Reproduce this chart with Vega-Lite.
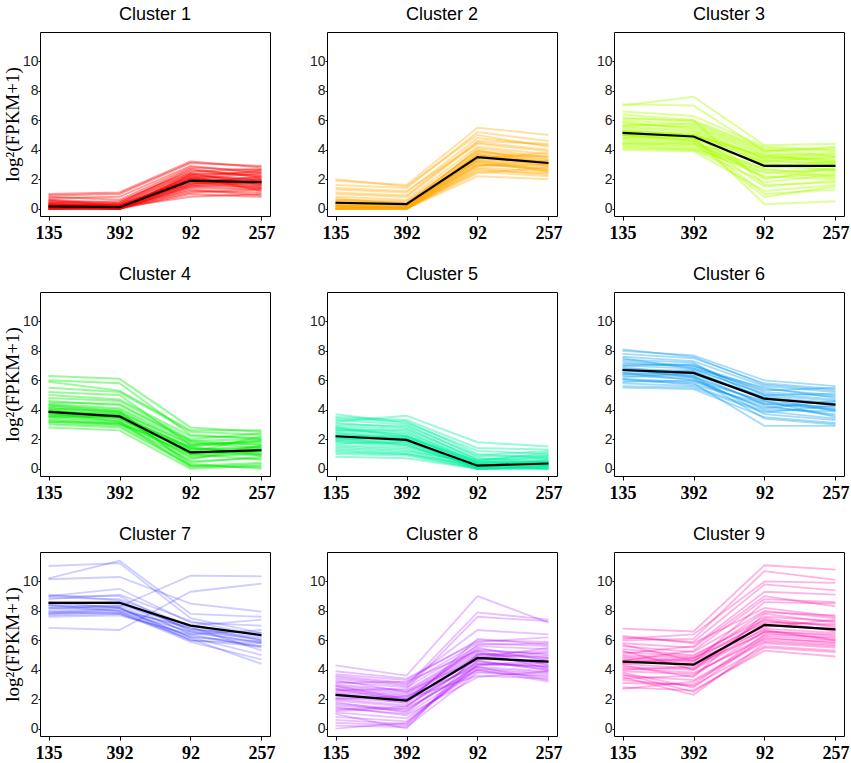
{
"$schema":"https://vega.github.io/schema/vega-lite/v6.json",
"background":"white",
"padding":{"left":2,"top":5,"right":2,"bottom":5},
"datasets":{
"means":[
{"c":1,"135":0.15,"392":0.1,"92":1.9,"257":1.8},
{"c":2,"135":0.4,"392":0.3,"92":3.5,"257":3.1},
{"c":3,"135":5.15,"392":4.9,"92":2.9,"257":2.9},
{"c":4,"135":3.85,"392":3.55,"92":1.1,"257":1.25},
{"c":5,"135":2.2,"392":1.95,"92":0.2,"257":0.35},
{"c":6,"135":6.7,"392":6.5,"92":4.75,"257":4.35},
{"c":7,"135":8.55,"392":8.55,"92":7.0,"257":6.35},
{"c":8,"135":2.3,"392":1.9,"92":4.8,"257":4.55},
{"c":9,"135":4.55,"392":4.35,"92":7.05,"257":6.75}
],
"genes":[
{"c":1,"g":1,"135":0.0,"392":0.0,"92":1.5,"257":1.4},
{"c":1,"g":2,"135":0.1,"392":0.0,"92":1.8,"257":1.6},
{"c":1,"g":3,"135":0.2,"392":0.1,"92":2.0,"257":1.9},
{"c":1,"g":4,"135":0.3,"392":0.2,"92":2.2,"257":2.0},
{"c":1,"g":5,"135":0.0,"392":0.1,"92":1.2,"257":1.1},
{"c":1,"g":6,"135":0.5,"392":0.3,"92":2.4,"257":2.3},
{"c":1,"g":7,"135":0.1,"392":0.0,"92":1.9,"257":2.1},
{"c":1,"g":8,"135":0.2,"392":0.2,"92":1.6,"257":1.5},
{"c":1,"g":9,"135":0.4,"392":0.1,"92":2.1,"257":1.7},
{"c":1,"g":10,"135":0.0,"392":0.0,"92":2.3,"257":2.5},
{"c":1,"g":11,"135":0.6,"392":0.4,"92":2.6,"257":2.2},
{"c":1,"g":12,"135":0.1,"392":0.1,"92":1.4,"257":1.3},
{"c":1,"g":13,"135":0.3,"392":0.0,"92":1.7,"257":1.9},
{"c":1,"g":14,"135":0.0,"392":0.2,"92":2.0,"257":2.4},
{"c":1,"g":15,"135":0.8,"392":0.6,"92":2.8,"257":2.6},
{"c":1,"g":16,"135":0.2,"392":0.0,"92":1.3,"257":0.9},
{"c":1,"g":17,"135":0.1,"392":0.3,"92":1.9,"257":1.8},
{"c":1,"g":18,"135":0.4,"392":0.5,"92":2.5,"257":2.7},
{"c":1,"g":19,"135":0.0,"392":0.0,"92":1.0,"257":0.8},
{"c":1,"g":20,"135":0.9,"392":1.0,"92":3.1,"257":2.9},
{"c":1,"g":21,"135":0.3,"392":0.1,"92":2.2,"257":1.2},
{"c":1,"g":22,"135":0.0,"392":0.0,"92":1.6,"257":2.0},
{"c":1,"g":23,"135":0.5,"392":0.2,"92":1.8,"257":1.4},
{"c":1,"g":24,"135":0.2,"392":0.4,"92":2.7,"257":2.1},
{"c":1,"g":25,"135":0.1,"392":0.0,"92":2.1,"257":2.6},
{"c":1,"g":26,"135":0.7,"392":0.8,"92":2.9,"257":2.4},
{"c":1,"g":27,"135":0.0,"392":0.1,"92":0.8,"257":1.0},
{"c":1,"g":28,"135":0.3,"392":0.3,"92":2.4,"257":1.6},
{"c":1,"g":29,"135":0.2,"392":0.0,"92":1.5,"257":1.8},
{"c":1,"g":30,"135":0.1,"392":0.2,"92":2.0,"257":1.5},
{"c":1,"g":31,"135":0.6,"392":0.2,"92":1.7,"257":2.2},
{"c":1,"g":32,"135":0.0,"392":0.0,"92":1.1,"257":1.3},
{"c":1,"g":33,"135":1.0,"392":1.1,"92":3.2,"257":2.8},
{"c":1,"g":34,"135":0.4,"392":0.0,"92":2.3,"257":1.9},
{"c":1,"g":35,"135":0.2,"392":0.1,"92":1.9,"257":1.7},
{"c":2,"g":1,"135":0.0,"392":0.0,"92":3.0,"257":2.8},
{"c":2,"g":2,"135":0.2,"392":0.1,"92":3.4,"257":3.0},
{"c":2,"g":3,"135":0.4,"392":0.3,"92":3.6,"257":3.2},
{"c":2,"g":4,"135":0.1,"392":0.0,"92":2.8,"257":2.5},
{"c":2,"g":5,"135":0.0,"392":0.0,"92":3.2,"257":2.9},
{"c":2,"g":6,"135":0.6,"392":0.5,"92":3.9,"257":3.5},
{"c":2,"g":7,"135":0.3,"392":0.2,"92":3.3,"257":3.1},
{"c":2,"g":8,"135":0.0,"392":0.1,"92":2.5,"257":2.2},
{"c":2,"g":9,"135":0.8,"392":0.6,"92":4.2,"257":3.7},
{"c":2,"g":10,"135":0.2,"392":0.0,"92":3.1,"257":2.6},
{"c":2,"g":11,"135":1.0,"392":0.8,"92":4.5,"257":4.0},
{"c":2,"g":12,"135":0.1,"392":0.0,"92":2.9,"257":3.3},
{"c":2,"g":13,"135":0.5,"392":0.4,"92":3.7,"257":2.9},
{"c":2,"g":14,"135":0.0,"392":0.0,"92":2.2,"257":2.0},
{"c":2,"g":15,"135":1.3,"392":1.1,"92":4.8,"257":4.3},
{"c":2,"g":16,"135":0.3,"392":0.1,"92":3.5,"257":3.6},
{"c":2,"g":17,"135":0.0,"392":0.2,"92":3.0,"257":2.7},
{"c":2,"g":18,"135":1.6,"392":1.4,"92":5.2,"257":4.6},
{"c":2,"g":19,"135":0.2,"392":0.0,"92":3.8,"257":3.4},
{"c":2,"g":20,"135":0.7,"392":0.3,"92":4.0,"257":3.0},
{"c":2,"g":21,"135":0.0,"392":0.0,"92":2.6,"257":2.4},
{"c":2,"g":22,"135":1.9,"392":1.6,"92":5.5,"257":5.0},
{"c":2,"g":23,"135":0.4,"392":0.2,"92":3.4,"257":3.8},
{"c":2,"g":24,"135":0.1,"392":0.1,"92":3.6,"257":3.1},
{"c":2,"g":25,"135":1.1,"392":0.9,"92":4.6,"257":4.4},
{"c":2,"g":26,"135":0.0,"392":0.0,"92":2.4,"257":2.8},
{"c":2,"g":27,"135":0.5,"392":0.3,"92":3.2,"257":2.5},
{"c":2,"g":28,"135":0.2,"392":0.1,"92":4.1,"257":3.5},
{"c":2,"g":29,"135":2.0,"392":1.5,"92":5.0,"257":4.2},
{"c":2,"g":30,"135":0.3,"392":0.0,"92":2.7,"257":2.3},
{"c":2,"g":31,"135":0.6,"392":0.4,"92":3.9,"257":3.3},
{"c":2,"g":32,"135":0.0,"392":0.0,"92":3.3,"257":2.6},
{"c":2,"g":33,"135":1.4,"392":1.2,"92":4.4,"257":3.9},
{"c":2,"g":34,"135":0.2,"392":0.2,"92":2.9,"257":3.0},
{"c":2,"g":35,"135":0.0,"392":0.1,"92":3.7,"257":3.2},
{"c":3,"g":1,"135":5.0,"392":4.8,"92":3.0,"257":2.9},
{"c":3,"g":2,"135":5.3,"392":5.0,"92":3.2,"257":3.1},
{"c":3,"g":3,"135":4.8,"392":4.6,"92":2.6,"257":2.5},
{"c":3,"g":4,"135":5.6,"392":5.3,"92":3.4,"257":3.3},
{"c":3,"g":5,"135":4.4,"392":4.2,"92":2.2,"257":2.0},
{"c":3,"g":6,"135":6.0,"392":5.7,"92":3.8,"257":3.5},
{"c":3,"g":7,"135":5.1,"392":4.9,"92":2.9,"257":3.2},
{"c":3,"g":8,"135":4.2,"392":4.0,"92":1.8,"257":2.3},
{"c":3,"g":9,"135":5.8,"392":5.5,"92":3.6,"257":3.8},
{"c":3,"g":10,"135":4.6,"392":4.4,"92":2.4,"257":2.7},
{"c":3,"g":11,"135":6.4,"392":6.0,"92":4.1,"257":3.9},
{"c":3,"g":12,"135":5.2,"392":5.1,"92":3.1,"257":2.6},
{"c":3,"g":13,"135":4.0,"392":3.9,"92":1.2,"257":1.6},
{"c":3,"g":14,"135":7.1,"392":7.0,"92":3.9,"257":4.2},
{"c":3,"g":15,"135":5.5,"392":5.2,"92":3.3,"257":3.0},
{"c":3,"g":16,"135":4.7,"392":4.5,"92":0.8,"257":1.5},
{"c":3,"g":17,"135":6.2,"392":5.9,"92":4.0,"257":3.6},
{"c":3,"g":18,"135":5.0,"392":5.0,"92":2.0,"257":2.8},
{"c":3,"g":19,"135":4.3,"392":4.1,"92":2.7,"257":2.2},
{"c":3,"g":20,"135":7.0,"392":7.6,"92":4.3,"257":4.4},
{"c":3,"g":21,"135":5.4,"392":5.0,"92":3.5,"257":3.4},
{"c":3,"g":22,"135":4.9,"392":4.7,"92":1.5,"257":1.9},
{"c":3,"g":23,"135":5.7,"392":5.6,"92":3.7,"257":3.2},
{"c":3,"g":24,"135":4.5,"392":4.3,"92":2.8,"257":3.0},
{"c":3,"g":25,"135":6.6,"392":6.3,"92":4.2,"257":4.0},
{"c":3,"g":26,"135":5.3,"392":4.9,"92":0.3,"257":0.5},
{"c":3,"g":27,"135":4.1,"392":4.0,"92":2.5,"257":2.1},
{"c":3,"g":28,"135":5.9,"392":5.4,"92":3.4,"257":3.7},
{"c":3,"g":29,"135":5.0,"392":4.6,"92":2.1,"257":2.4},
{"c":3,"g":30,"135":4.8,"392":5.0,"92":3.6,"257":3.1},
{"c":3,"g":31,"135":6.1,"392":6.0,"92":1.6,"257":1.8},
{"c":3,"g":32,"135":5.2,"392":4.8,"92":2.9,"257":2.6},
{"c":3,"g":33,"135":4.4,"392":4.4,"92":3.2,"257":3.5},
{"c":3,"g":34,"135":5.6,"392":5.8,"92":3.9,"257":4.1},
{"c":3,"g":35,"135":5.0,"392":4.7,"92":1.0,"257":1.3},
{"c":4,"g":1,"135":3.8,"392":3.5,"92":1.1,"257":1.2},
{"c":4,"g":2,"135":4.0,"392":3.7,"92":1.3,"257":1.4},
{"c":4,"g":3,"135":3.5,"392":3.2,"92":0.8,"257":1.0},
{"c":4,"g":4,"135":4.3,"392":4.0,"92":1.6,"257":1.7},
{"c":4,"g":5,"135":3.2,"392":3.0,"92":0.5,"257":0.7},
{"c":4,"g":6,"135":4.6,"392":4.3,"92":1.9,"257":2.0},
{"c":4,"g":7,"135":3.9,"392":3.6,"92":1.0,"257":1.5},
{"c":4,"g":8,"135":3.0,"392":2.8,"92":0.2,"257":0.4},
{"c":4,"g":9,"135":4.1,"392":3.9,"92":1.4,"257":1.1},
{"c":4,"g":10,"135":3.6,"392":3.3,"92":0.9,"257":1.3},
{"c":4,"g":11,"135":5.0,"392":4.7,"92":2.2,"257":2.1},
{"c":4,"g":12,"135":3.7,"392":3.5,"92":1.2,"257":0.9},
{"c":4,"g":13,"135":2.8,"392":2.6,"92":0.0,"257":0.2},
{"c":4,"g":14,"135":5.5,"392":5.2,"92":2.5,"257":2.3},
{"c":4,"g":15,"135":4.2,"392":3.8,"92":1.7,"257":1.8},
{"c":4,"g":16,"135":3.4,"392":3.1,"92":0.6,"257":1.6},
{"c":4,"g":17,"135":4.8,"392":4.6,"92":2.0,"257":2.4},
{"c":4,"g":18,"135":3.9,"392":3.7,"92":0.4,"257":0.8},
{"c":4,"g":19,"135":3.3,"392":3.0,"92":1.5,"257":1.9},
{"c":4,"g":20,"135":6.3,"392":6.1,"92":2.8,"257":2.5},
{"c":4,"g":21,"135":4.4,"392":4.1,"92":1.8,"257":1.4},
{"c":4,"g":22,"135":3.1,"392":2.9,"92":0.3,"257":0.0},
{"c":4,"g":23,"135":4.0,"392":3.4,"92":1.1,"257":2.2},
{"c":4,"g":24,"135":3.6,"392":3.6,"92":1.4,"257":1.0},
{"c":4,"g":25,"135":5.9,"392":5.3,"92":2.6,"257":2.6},
{"c":4,"g":26,"135":3.8,"392":3.2,"92":0.1,"257":0.3},
{"c":4,"g":27,"135":4.5,"392":4.4,"92":1.9,"257":1.6},
{"c":4,"g":28,"135":3.5,"392":3.5,"92":0.7,"257":1.2},
{"c":4,"g":29,"135":4.1,"392":3.8,"92":1.0,"257":0.6},
{"c":4,"g":30,"135":5.2,"392":5.0,"92":1.6,"257":1.9},
{"c":4,"g":31,"135":3.7,"392":3.4,"92":1.3,"257":1.5},
{"c":4,"g":32,"135":4.3,"392":3.9,"92":0.2,"257":0.1},
{"c":4,"g":33,"135":6.0,"392":5.8,"92":2.3,"257":2.0},
{"c":4,"g":34,"135":3.2,"392":3.1,"92":1.0,"257":1.3},
{"c":4,"g":35,"135":3.9,"392":3.5,"92":1.5,"257":0.9},
{"c":5,"g":1,"135":2.2,"392":1.9,"92":0.2,"257":0.3},
{"c":5,"g":2,"135":2.5,"392":2.2,"92":0.3,"257":0.4},
{"c":5,"g":3,"135":1.9,"392":1.6,"92":0.1,"257":0.2},
{"c":5,"g":4,"135":2.8,"392":2.5,"92":0.4,"257":0.5},
{"c":5,"g":5,"135":1.5,"392":1.3,"92":0.0,"257":0.1},
{"c":5,"g":6,"135":3.1,"392":2.8,"92":0.6,"257":0.7},
{"c":5,"g":7,"135":2.0,"392":1.8,"92":0.2,"257":0.5},
{"c":5,"g":8,"135":1.2,"392":1.0,"92":0.0,"257":0.0},
{"c":5,"g":9,"135":2.6,"392":2.4,"92":0.5,"257":0.3},
{"c":5,"g":10,"135":2.3,"392":2.0,"92":0.1,"257":0.6},
{"c":5,"g":11,"135":3.3,"392":3.0,"92":0.8,"257":0.9},
{"c":5,"g":12,"135":1.8,"392":1.5,"92":0.3,"257":0.2},
{"c":5,"g":13,"135":1.0,"392":0.9,"92":0.0,"257":0.1},
{"c":5,"g":14,"135":3.7,"392":3.1,"92":1.2,"257":1.0},
{"c":5,"g":15,"135":2.4,"392":2.1,"92":0.4,"257":0.8},
{"c":5,"g":16,"135":1.6,"392":1.4,"92":0.2,"257":0.0},
{"c":5,"g":17,"135":2.9,"392":2.7,"92":0.7,"257":0.4},
{"c":5,"g":18,"135":2.1,"392":1.9,"92":0.0,"257":0.2},
{"c":5,"g":19,"135":1.3,"392":1.1,"92":0.1,"257":0.4},
{"c":5,"g":20,"135":3.2,"392":3.6,"92":1.8,"257":1.5},
{"c":5,"g":21,"135":2.7,"392":2.3,"92":0.3,"257":0.6},
{"c":5,"g":22,"135":0.8,"392":0.7,"92":0.0,"257":0.0},
{"c":5,"g":23,"135":2.0,"392":2.1,"92":0.5,"257":1.1},
{"c":5,"g":24,"135":1.7,"392":1.8,"92":0.2,"257":0.3},
{"c":5,"g":25,"135":3.0,"392":2.9,"92":0.9,"257":1.2},
{"c":5,"g":26,"135":2.4,"392":2.0,"92":0.0,"257":0.1},
{"c":5,"g":27,"135":1.4,"392":1.2,"92":0.4,"257":0.2},
{"c":5,"g":28,"135":2.6,"392":2.6,"92":0.6,"257":0.9},
{"c":5,"g":29,"135":3.4,"392":3.2,"92":1.0,"257":0.7},
{"c":5,"g":30,"135":1.9,"392":1.7,"92":0.1,"257":0.5},
{"c":5,"g":31,"135":2.2,"392":2.2,"92":0.3,"257":0.0},
{"c":5,"g":32,"135":1.1,"392":1.0,"92":0.2,"257":0.3},
{"c":5,"g":33,"135":2.8,"392":2.2,"92":0.5,"257":0.4},
{"c":5,"g":34,"135":3.5,"392":3.3,"92":1.4,"257":1.3},
{"c":5,"g":35,"135":2.1,"392":1.6,"92":0.0,"257":0.2},
{"c":6,"g":1,"135":6.7,"392":6.5,"92":4.8,"257":4.3},
{"c":6,"g":2,"135":7.0,"392":6.8,"92":5.0,"257":4.6},
{"c":6,"g":3,"135":6.4,"392":6.2,"92":4.5,"257":4.0},
{"c":6,"g":4,"135":7.3,"392":7.0,"92":5.2,"257":4.9},
{"c":6,"g":5,"135":6.1,"392":5.9,"92":4.2,"257":3.7},
{"c":6,"g":6,"135":7.6,"392":7.3,"92":5.6,"257":5.2},
{"c":6,"g":7,"135":6.8,"392":6.6,"92":4.7,"257":4.5},
{"c":6,"g":8,"135":5.8,"392":5.6,"92":3.9,"257":3.4},
{"c":6,"g":9,"135":7.1,"392":7.0,"92":5.4,"257":5.0},
{"c":6,"g":10,"135":6.5,"392":6.3,"92":4.4,"257":4.2},
{"c":6,"g":11,"135":8.0,"392":7.7,"92":6.0,"257":5.6},
{"c":6,"g":12,"135":6.9,"392":6.4,"92":4.9,"257":4.4},
{"c":6,"g":13,"135":5.5,"392":5.4,"92":3.5,"257":3.1},
{"c":6,"g":14,"135":7.8,"392":7.5,"92":5.8,"257":5.4},
{"c":6,"g":15,"135":6.3,"392":6.1,"92":4.0,"257":3.9},
{"c":6,"g":16,"135":6.6,"392":6.7,"92":5.1,"257":4.7},
{"c":6,"g":17,"135":7.4,"392":7.2,"92":4.6,"257":4.1},
{"c":6,"g":18,"135":6.0,"392":5.8,"92":2.9,"257":2.9},
{"c":6,"g":19,"135":6.2,"392":6.5,"92":4.3,"257":3.6},
{"c":6,"g":20,"135":7.2,"392":6.9,"92":5.3,"257":5.5},
{"c":6,"g":21,"135":6.7,"392":6.3,"92":3.7,"257":3.3},
{"c":6,"g":22,"135":5.9,"392":6.0,"92":4.1,"257":4.6},
{"c":6,"g":23,"135":7.5,"392":6.8,"92":5.5,"257":4.8},
{"c":6,"g":24,"135":6.4,"392":6.6,"92":4.8,"257":3.9},
{"c":6,"g":25,"135":8.1,"392":7.6,"92":5.7,"257":5.3},
{"c":6,"g":26,"135":6.8,"392":6.2,"92":3.4,"257":3.0},
{"c":6,"g":27,"135":6.1,"392":5.7,"92":4.4,"257":4.0},
{"c":6,"g":28,"135":7.0,"392":7.1,"92":5.0,"257":5.1},
{"c":6,"g":29,"135":6.5,"392":6.0,"92":4.6,"257":3.5},
{"c":6,"g":30,"135":5.6,"392":5.5,"92":3.8,"257":4.3},
{"c":7,"g":1,"135":11.05,"392":11.25,"92":7.5,"257":6.5},
{"c":7,"g":2,"135":10.2,"392":11.4,"92":7.8,"257":7.6},
{"c":7,"g":3,"135":10.15,"392":10.3,"92":8.5,"257":7.95},
{"c":7,"g":4,"135":9.0,"392":9.5,"92":7.2,"257":7.0},
{"c":7,"g":5,"135":9.0,"392":9.0,"92":6.6,"257":5.8},
{"c":7,"g":6,"135":8.9,"392":8.8,"92":7.0,"257":6.0},
{"c":7,"g":7,"135":8.6,"392":8.6,"92":6.8,"257":6.2},
{"c":7,"g":8,"135":8.5,"392":8.6,"92":6.4,"257":5.5},
{"c":7,"g":9,"135":8.4,"392":8.3,"92":6.5,"257":5.9},
{"c":7,"g":10,"135":8.3,"392":8.2,"92":6.2,"257":5.0},
{"c":7,"g":11,"135":8.2,"392":8.0,"92":6.0,"257":5.8},
{"c":7,"g":12,"135":8.0,"392":7.9,"92":6.6,"257":6.1},
{"c":7,"g":13,"135":7.9,"392":7.8,"92":6.3,"257":5.6},
{"c":7,"g":14,"135":7.8,"392":7.9,"92":5.9,"257":4.7},
{"c":7,"g":15,"135":7.7,"392":7.8,"92":6.1,"257":4.4},
{"c":7,"g":16,"135":7.6,"392":7.7,"92":6.4,"257":6.7},
{"c":7,"g":17,"135":8.1,"392":8.3,"92":10.4,"257":10.35},
{"c":7,"g":18,"135":6.85,"392":6.7,"92":9.3,"257":9.85},
{"c":7,"g":19,"135":8.8,"392":9.1,"92":7.3,"257":6.3},
{"c":7,"g":20,"135":8.4,"392":8.0,"92":6.9,"257":5.3},
{"c":7,"g":21,"135":7.9,"392":8.2,"92":6.2,"257":5.9},
{"c":7,"g":22,"135":9.1,"392":8.7,"92":6.7,"257":6.5},
{"c":7,"g":23,"135":8.2,"392":8.4,"92":7.0,"257":7.4},
{"c":7,"g":24,"135":7.8,"392":8.1,"92":6.8,"257":6.0},
{"c":7,"g":25,"135":8.6,"392":8.2,"92":6.0,"257":5.6},
{"c":8,"g":1,"135":2.3,"392":1.9,"92":4.8,"257":4.5},
{"c":8,"g":2,"135":2.6,"392":2.2,"92":5.0,"257":4.8},
{"c":8,"g":3,"135":2.0,"392":1.6,"92":4.5,"257":4.2},
{"c":8,"g":4,"135":2.9,"392":2.5,"92":5.3,"257":5.1},
{"c":8,"g":5,"135":1.7,"392":1.3,"92":4.2,"257":3.9},
{"c":8,"g":6,"135":3.2,"392":2.8,"92":5.6,"257":5.4},
{"c":8,"g":7,"135":2.4,"392":2.0,"92":4.7,"257":4.6},
{"c":8,"g":8,"135":1.4,"392":1.0,"92":4.0,"257":3.7},
{"c":8,"g":9,"135":2.7,"392":2.3,"92":5.1,"257":4.9},
{"c":8,"g":10,"135":2.1,"392":1.8,"92":4.4,"257":4.3},
{"c":8,"g":11,"135":3.5,"392":3.0,"92":5.8,"257":5.6},
{"c":8,"g":12,"135":1.9,"392":1.5,"92":4.6,"257":4.0},
{"c":8,"g":13,"135":1.1,"392":0.7,"92":3.9,"257":3.5},
{"c":8,"g":14,"135":3.7,"392":3.3,"92":6.0,"257":5.9},
{"c":8,"g":15,"135":2.5,"392":2.1,"92":4.9,"257":4.4},
{"c":8,"g":16,"135":1.6,"392":1.2,"92":4.3,"257":4.7},
{"c":8,"g":17,"135":3.0,"392":2.6,"92":5.4,"257":5.0},
{"c":8,"g":18,"135":2.2,"392":2.0,"92":3.6,"257":3.4},
{"c":8,"g":19,"135":0.8,"392":0.5,"92":4.1,"257":3.8},
{"c":8,"g":20,"135":4.3,"392":3.6,"92":9.0,"257":7.2},
{"c":8,"g":21,"135":2.8,"392":2.4,"92":5.2,"257":4.1},
{"c":8,"g":22,"135":0.4,"392":0.2,"92":4.4,"257":4.2},
{"c":8,"g":23,"135":3.4,"392":2.9,"92":7.9,"257":7.4},
{"c":8,"g":24,"135":1.3,"392":1.5,"92":5.0,"257":5.3},
{"c":8,"g":25,"135":2.6,"392":2.7,"92":7.6,"257":7.3},
{"c":8,"g":26,"135":0.2,"392":0.1,"92":3.8,"257":3.6},
{"c":8,"g":27,"135":3.6,"392":3.1,"92":6.7,"257":6.4},
{"c":8,"g":28,"135":1.8,"392":1.1,"92":4.8,"257":5.5},
{"c":8,"g":29,"135":2.9,"392":2.0,"92":5.5,"257":4.6},
{"c":8,"g":30,"135":0.6,"392":0.3,"92":4.6,"257":4.0},
{"c":8,"g":31,"135":3.9,"392":3.4,"92":5.9,"257":6.2},
{"c":8,"g":32,"135":2.0,"392":2.2,"92":4.2,"257":3.3},
{"c":8,"g":33,"135":1.0,"392":0.0,"92":5.1,"257":4.8},
{"c":8,"g":34,"135":3.3,"392":2.5,"92":4.7,"257":5.2},
{"c":8,"g":35,"135":1.5,"392":0.9,"92":3.5,"257":3.9},
{"c":8,"g":36,"135":2.4,"392":1.7,"92":6.1,"257":5.7},
{"c":8,"g":37,"135":0.0,"392":0.4,"92":4.3,"257":4.5},
{"c":8,"g":38,"135":3.1,"392":3.2,"92":5.3,"257":4.3},
{"c":8,"g":39,"135":1.2,"392":1.4,"92":4.0,"257":3.2},
{"c":8,"g":40,"135":2.7,"392":1.9,"92":5.7,"257":5.8},
{"c":9,"g":1,"135":4.6,"392":4.4,"92":7.0,"257":6.8},
{"c":9,"g":2,"135":4.9,"392":4.6,"92":7.3,"257":7.0},
{"c":9,"g":3,"135":4.2,"392":4.0,"92":6.6,"257":6.3},
{"c":9,"g":4,"135":5.2,"392":4.9,"92":7.6,"257":7.3},
{"c":9,"g":5,"135":3.9,"392":3.7,"92":6.3,"257":6.0},
{"c":9,"g":6,"135":5.6,"392":5.2,"92":8.0,"257":7.5},
{"c":9,"g":7,"135":4.4,"392":4.1,"92":6.8,"257":6.5},
{"c":9,"g":8,"135":3.6,"392":3.3,"92":6.0,"257":5.7},
{"c":9,"g":9,"135":5.0,"392":4.8,"92":7.2,"257":7.1},
{"c":9,"g":10,"135":4.7,"392":4.3,"92":6.5,"257":6.1},
{"c":9,"g":11,"135":6.2,"392":5.9,"92":9.8,"257":9.4},
{"c":9,"g":12,"135":4.1,"392":3.8,"92":6.1,"257":5.9},
{"c":9,"g":13,"135":3.3,"392":2.9,"92":5.6,"257":5.3},
{"c":9,"g":14,"135":6.8,"392":6.6,"92":11.1,"257":10.8},
{"c":9,"g":15,"135":5.4,"392":5.0,"92":7.4,"257":6.6},
{"c":9,"g":16,"135":3.5,"392":2.3,"92":5.8,"257":5.5},
{"c":9,"g":17,"135":6.0,"392":6.1,"92":10.7,"257":10.1},
{"c":9,"g":18,"135":4.8,"392":4.5,"92":8.6,"257":8.5},
{"c":9,"g":19,"135":2.8,"392":2.6,"92":5.3,"257":4.9},
{"c":9,"g":20,"135":5.8,"392":5.5,"92":9.0,"257":8.3},
{"c":9,"g":21,"135":4.3,"392":3.5,"92":7.8,"257":7.2},
{"c":9,"g":22,"135":3.1,"392":3.0,"92":6.4,"257":6.2},
{"c":9,"g":23,"135":5.1,"392":5.6,"92":9.3,"257":9.1},
{"c":9,"g":24,"135":4.5,"392":4.8,"92":6.9,"257":7.4},
{"c":9,"g":25,"135":6.3,"392":5.8,"92":8.2,"257":7.6},
{"c":9,"g":26,"135":3.8,"392":2.8,"92":6.2,"257":5.8},
{"c":9,"g":27,"135":4.0,"392":4.2,"92":7.1,"257":6.7},
{"c":9,"g":28,"135":5.7,"392":4.6,"92":6.7,"257":6.0},
{"c":9,"g":29,"135":2.7,"392":3.2,"92":5.9,"257":5.6},
{"c":9,"g":30,"135":4.6,"392":5.3,"92":8.8,"257":8.6},
{"c":9,"g":31,"135":5.3,"392":4.0,"92":7.5,"257":6.9},
{"c":9,"g":32,"135":3.4,"392":3.6,"92":6.6,"257":6.4},
{"c":9,"g":33,"135":6.1,"392":6.4,"92":10.0,"257":9.9},
{"c":9,"g":34,"135":4.4,"392":4.7,"92":7.9,"257":7.7},
{"c":9,"g":35,"135":3.7,"392":2.5,"92":5.5,"257":5.2}
]
},
"columns":3,
"spacing":{"row":22,"column":13},
"concat":[
{"title":"Cluster 1","width":230,"height":184,
"encoding":{"x":{"field":"stage","type":"ordinal","sort":["135","392","92","257"],"scale":{"type":"point","padding":0.12},"axis":{"title":null}},"y":{"field":"value","type":"quantitative","scale":{"domain":[-0.5,12],"nice":false,"zero":false},"axis":{"title":"log²(FPKM+1)","values":[0,2,4,6,8,10]}}},
"layer":[
{"data":{"name":"genes"},"transform":[{"filter":"datum.c==1"},{"fold":["135","392","92","257"],"as":["stage","value"]}],"mark":{"type":"line","color":"#ff0000","opacity":0.4,"strokeWidth":2},"encoding":{"detail":{"field":"g"}}},
{"data":{"name":"means"},"transform":[{"filter":"datum.c==1"},{"fold":["135","392","92","257"],"as":["stage","value"]}],"mark":{"type":"line","color":"#000000","strokeWidth":2.2}}]},
{"title":"Cluster 2","width":230,"height":184,
"encoding":{"x":{"field":"stage","type":"ordinal","sort":["135","392","92","257"],"scale":{"type":"point","padding":0.12},"axis":{"title":null}},"y":{"field":"value","type":"quantitative","scale":{"domain":[-0.5,12],"nice":false,"zero":false},"axis":{"title":"log²(FPKM+1)","titleOpacity":0,"values":[0,2,4,6,8,10]}}},
"layer":[
{"data":{"name":"genes"},"transform":[{"filter":"datum.c==2"},{"fold":["135","392","92","257"],"as":["stage","value"]}],"mark":{"type":"line","color":"#ffaa00","opacity":0.35,"strokeWidth":2},"encoding":{"detail":{"field":"g"}}},
{"data":{"name":"means"},"transform":[{"filter":"datum.c==2"},{"fold":["135","392","92","257"],"as":["stage","value"]}],"mark":{"type":"line","color":"#000000","strokeWidth":2.2}}]},
{"title":"Cluster 3","width":230,"height":184,
"encoding":{"x":{"field":"stage","type":"ordinal","sort":["135","392","92","257"],"scale":{"type":"point","padding":0.12},"axis":{"title":null}},"y":{"field":"value","type":"quantitative","scale":{"domain":[-0.5,12],"nice":false,"zero":false},"axis":{"title":"log²(FPKM+1)","titleOpacity":0,"values":[0,2,4,6,8,10]}}},
"layer":[
{"data":{"name":"genes"},"transform":[{"filter":"datum.c==3"},{"fold":["135","392","92","257"],"as":["stage","value"]}],"mark":{"type":"line","color":"#aaff00","opacity":0.4,"strokeWidth":2},"encoding":{"detail":{"field":"g"}}},
{"data":{"name":"means"},"transform":[{"filter":"datum.c==3"},{"fold":["135","392","92","257"],"as":["stage","value"]}],"mark":{"type":"line","color":"#000000","strokeWidth":2.2}}]},
{"title":"Cluster 4","width":230,"height":184,
"encoding":{"x":{"field":"stage","type":"ordinal","sort":["135","392","92","257"],"scale":{"type":"point","padding":0.12},"axis":{"title":null}},"y":{"field":"value","type":"quantitative","scale":{"domain":[-0.5,12],"nice":false,"zero":false},"axis":{"title":"log²(FPKM+1)","values":[0,2,4,6,8,10]}}},
"layer":[
{"data":{"name":"genes"},"transform":[{"filter":"datum.c==4"},{"fold":["135","392","92","257"],"as":["stage","value"]}],"mark":{"type":"line","color":"#00ee00","opacity":0.4,"strokeWidth":2},"encoding":{"detail":{"field":"g"}}},
{"data":{"name":"means"},"transform":[{"filter":"datum.c==4"},{"fold":["135","392","92","257"],"as":["stage","value"]}],"mark":{"type":"line","color":"#000000","strokeWidth":2.2}}]},
{"title":"Cluster 5","width":230,"height":184,
"encoding":{"x":{"field":"stage","type":"ordinal","sort":["135","392","92","257"],"scale":{"type":"point","padding":0.12},"axis":{"title":null}},"y":{"field":"value","type":"quantitative","scale":{"domain":[-0.5,12],"nice":false,"zero":false},"axis":{"title":"log²(FPKM+1)","titleOpacity":0,"values":[0,2,4,6,8,10]}}},
"layer":[
{"data":{"name":"genes"},"transform":[{"filter":"datum.c==5"},{"fold":["135","392","92","257"],"as":["stage","value"]}],"mark":{"type":"line","color":"#00f0a0","opacity":0.4,"strokeWidth":2},"encoding":{"detail":{"field":"g"}}},
{"data":{"name":"means"},"transform":[{"filter":"datum.c==5"},{"fold":["135","392","92","257"],"as":["stage","value"]}],"mark":{"type":"line","color":"#000000","strokeWidth":2.2}}]},
{"title":"Cluster 6","width":230,"height":184,
"encoding":{"x":{"field":"stage","type":"ordinal","sort":["135","392","92","257"],"scale":{"type":"point","padding":0.12},"axis":{"title":null}},"y":{"field":"value","type":"quantitative","scale":{"domain":[-0.5,12],"nice":false,"zero":false},"axis":{"title":"log²(FPKM+1)","titleOpacity":0,"values":[0,2,4,6,8,10]}}},
"layer":[
{"data":{"name":"genes"},"transform":[{"filter":"datum.c==6"},{"fold":["135","392","92","257"],"as":["stage","value"]}],"mark":{"type":"line","color":"#0099ee","opacity":0.35,"strokeWidth":1.8},"encoding":{"detail":{"field":"g"}}},
{"data":{"name":"means"},"transform":[{"filter":"datum.c==6"},{"fold":["135","392","92","257"],"as":["stage","value"]}],"mark":{"type":"line","color":"#000000","strokeWidth":2.2}}]},
{"title":"Cluster 7","width":230,"height":184,
"encoding":{"x":{"field":"stage","type":"ordinal","sort":["135","392","92","257"],"scale":{"type":"point","padding":0.12},"axis":{"title":null}},"y":{"field":"value","type":"quantitative","scale":{"domain":[-0.5,12],"nice":false,"zero":false},"axis":{"title":"log²(FPKM+1)","values":[0,2,4,6,8,10]}}},
"layer":[
{"data":{"name":"genes"},"transform":[{"filter":"datum.c==7"},{"fold":["135","392","92","257"],"as":["stage","value"]}],"mark":{"type":"line","color":"#2222ff","opacity":0.22,"strokeWidth":1.8},"encoding":{"detail":{"field":"g"}}},
{"data":{"name":"means"},"transform":[{"filter":"datum.c==7"},{"fold":["135","392","92","257"],"as":["stage","value"]}],"mark":{"type":"line","color":"#000000","strokeWidth":2.2}}]},
{"title":"Cluster 8","width":230,"height":184,
"encoding":{"x":{"field":"stage","type":"ordinal","sort":["135","392","92","257"],"scale":{"type":"point","padding":0.12},"axis":{"title":null}},"y":{"field":"value","type":"quantitative","scale":{"domain":[-0.5,12],"nice":false,"zero":false},"axis":{"title":"log²(FPKM+1)","titleOpacity":0,"values":[0,2,4,6,8,10]}}},
"layer":[
{"data":{"name":"genes"},"transform":[{"filter":"datum.c==8"},{"fold":["135","392","92","257"],"as":["stage","value"]}],"mark":{"type":"line","color":"#aa00ff","opacity":0.25,"strokeWidth":1.8},"encoding":{"detail":{"field":"g"}}},
{"data":{"name":"means"},"transform":[{"filter":"datum.c==8"},{"fold":["135","392","92","257"],"as":["stage","value"]}],"mark":{"type":"line","color":"#000000","strokeWidth":2.2}}]},
{"title":"Cluster 9","width":230,"height":184,
"encoding":{"x":{"field":"stage","type":"ordinal","sort":["135","392","92","257"],"scale":{"type":"point","padding":0.12},"axis":{"title":null}},"y":{"field":"value","type":"quantitative","scale":{"domain":[-0.5,12],"nice":false,"zero":false},"axis":{"title":"log²(FPKM+1)","titleOpacity":0,"values":[0,2,4,6,8,10]}}},
"layer":[
{"data":{"name":"genes"},"transform":[{"filter":"datum.c==9"},{"fold":["135","392","92","257"],"as":["stage","value"]}],"mark":{"type":"line","color":"#ff00aa","opacity":0.3,"strokeWidth":1.8},"encoding":{"detail":{"field":"g"}}},
{"data":{"name":"means"},"transform":[{"filter":"datum.c==9"},{"fold":["135","392","92","257"],"as":["stage","value"]}],"mark":{"type":"line","color":"#000000","strokeWidth":2.2}}]}
],
"config":{
"view":{"stroke":"#000000","strokeWidth":1},
"title":{"font":"Liberation Sans","fontSize":18,"fontWeight":"normal","color":"#000000","offset":8,"anchor":"middle","frame":"group"},
"axis":{"grid":false,"domain":false,"tickColor":"#000000","tickSize":2},
"axisX":{"labelFont":"Liberation Serif","labelFontWeight":"bold","labelFontSize":18,"labelColor":"#000000","labelAngle":0,"labelPadding":4,"tickSize":4},
"axisY":{"labelFont":"Liberation Sans","labelFontSize":14,"labelColor":"#222222","labelPadding":0,"labelOverlap":false,"titleFont":"Liberation Serif","titleFontSize":19,"titleFontWeight":"normal","titleColor":"#000000","titlePadding":0}
}
}
